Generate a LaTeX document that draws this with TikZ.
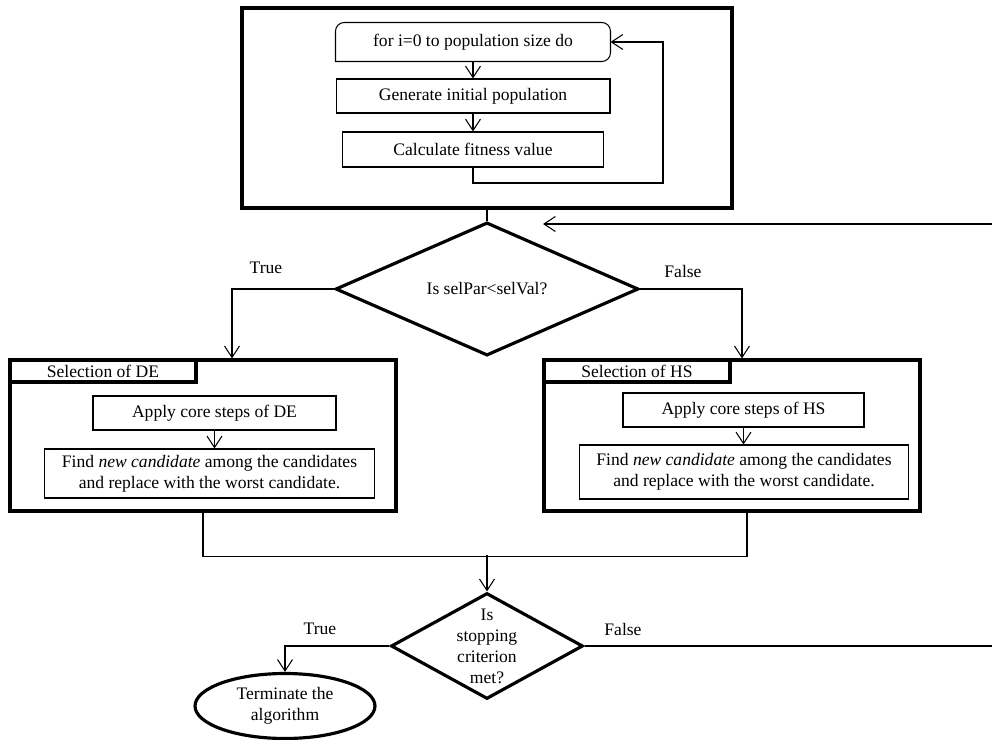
\documentclass[tikz,border=0pt]{standalone}
\usepackage{fontspec}
\setmainfont{Liberation Serif}
\usepackage{tikz}
\usetikzlibrary{shapes.geometric, arrows.meta, positioning, calc}

\begin{document}
\begin{tikzpicture}[
    x=0.02cm, y=-0.02cm,
    font=\fontsize{10}{12}\selectfont,
    outerbox/.style={draw, line width=1.8pt, inner sep=0pt},
    pbox/.style={draw, line width=0.6pt, align=center, inner sep=1mm},
    tabbox/.style={draw, line width=1.8pt, anchor=north west, minimum width=3.72cm, minimum height=0.44cm, inner sep=0pt},
    decision/.style={draw, diamond, line width=1.8pt, inner sep=0pt, align=center},
    lbl/.style={inner sep=1pt},
    arr/.style={-{Straight Barb[length=6.5pt, width=8.5pt]}, line width=0.6pt},
    plain/.style={line width=0.6pt}
  ]
    \useasboundingbox (0,0) rectangle (992,740);
    % initialisation block
    \node[outerbox, minimum width=9.8cm, minimum height=4cm] (init) at (487,108) {};
    \node[pbox, draw=none, minimum width=5.48cm, minimum height=0.76cm] (for) at (473,42) {for i=0 to population size do};
    \draw[line width=0.6pt] (for.south west) [rounded corners=5pt] |- (for.north) -| (for.south east) [sharp corners] -- cycle;
    \node[pbox, minimum width=5.48cm, minimum height=0.68cm] (gen) at (473,96) {Generate initial population};
    \node[pbox, minimum width=5.22cm, minimum height=0.7cm] (fit) at (473,149.5) {Calculate fitness value};
    \coordinate (loop) at (663,183);
    \draw[arr] (for) -- (gen);
    \draw[arr] (gen) -- (fit);
    \draw[arr] (fit.south) |- (loop) |- (for.east);
    % choice between DE and HS
    \node[decision, minimum width=6.06cm, minimum height=2.32cm] (sel) at (487,289) {Is selPar<selVal?};
    \draw[plain] (init.south) -- (sel.north);
    \coordinate (back) at (992,224);
    \coordinate (backend) at (543,224);
    \draw[arr] (back) -- (backend);
    \node[lbl] (t1) at (266,268) {True};
    \node[lbl] (f1) at (683,271) {False};
    % DE branch
    \node[outerbox, minimum width=7.72cm, minimum height=3.02cm] (de) at (203,435.5) {};
    \node[tabbox] (detab) at (de.north west) {Selection of DE};
    \node[pbox, minimum width=4.86cm, minimum height=0.68cm] (deapply) at (214.5,413) {Apply core steps of DE};
    \node[pbox, minimum width=6.62cm, minimum height=0.98cm] (defind) at (209.5,473.5) {Find \textit{new candidate} among the candidates\\and replace with the worst candidate.};
    \draw[arr] (deapply.south) -- (deapply.south |- defind.north);
    \draw[arr] (sel.west) -| ($(de.north)+(29,0)$);
    % HS branch
    \node[outerbox, minimum width=7.52cm, minimum height=3.02cm] (hs) at (732,435.5) {};
    \node[tabbox] (hstab) at (hs.north west) {Selection of HS};
    \node[pbox, minimum width=4.82cm, minimum height=0.68cm] (hsapply) at (743.5,410) {Apply core steps of HS};
    \node[pbox, minimum width=6.6cm, minimum height=1.08cm] (hsfind) at (744,472) {Find \textit{new candidate} among the candidates\\and replace with the worst candidate.};
    \draw[arr] (hsapply.south) -- (hsapply.south |- hsfind.north);
    \draw[arr] (sel.east) -| ($(hs.north)+(10,0)$);
    % stopping test
    \coordinate (join) at (487,555);
    \draw[plain] (de.south) -- ++(0,44) -| ($(hs.south)+(15,0)$);
    \node[decision, minimum width=3.84cm, minimum height=2.12cm] (stop) at (487,646) {};
    \node[align=center, inner sep=0pt] (stoptxt) at (stop) {Is\\stopping\\criterion\\met?};
    \draw[arr] (join) -- (stop.north);
    \node[draw, ellipse, line width=1.8pt, minimum width=3.6cm, minimum height=1.3cm, align=center, inner sep=0pt] (term) at (285,706) {Terminate the\\algorithm};
    \draw[arr] (stop.west) -| (term.north);
    \coordinate (out) at (992,646);
    \draw[plain] (stop.east) -- (out);
    \node[lbl] (t2) at (320,629) {True};
    \node[lbl] (f2) at (623,629) {False};
  \end{tikzpicture}
\end{document}
